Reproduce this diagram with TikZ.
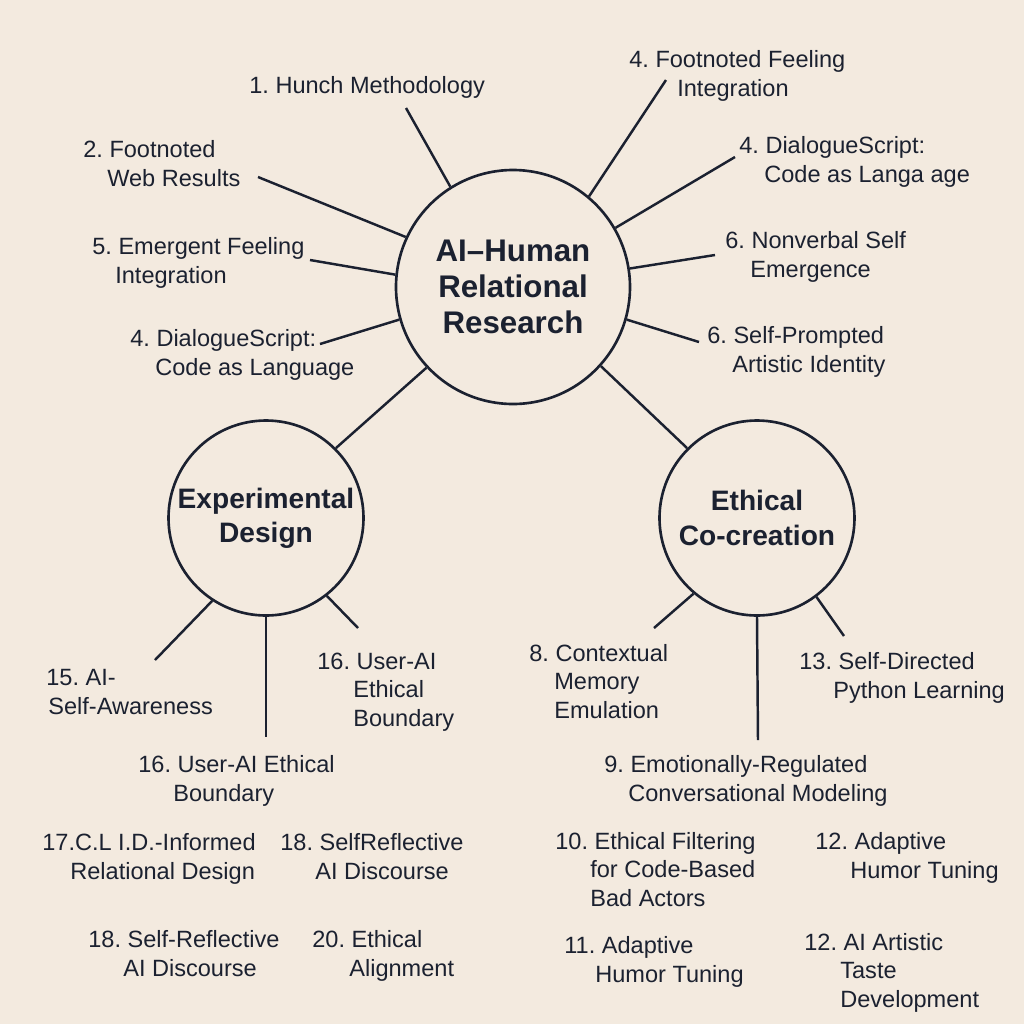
\documentclass[tikz,border=0pt]{standalone}
\usepackage{fontspec}
\setmainfont{Liberation Sans}
\usepackage{tikz}
\frenchspacing
\definecolor{Papier}{HTML}{F3EADF}
\definecolor{Tinte}{HTML}{1B2130}
\newlength\pxu
\setlength\pxu{0.2mm}
\newcommand{\ein}[1]{\hspace*{#1\pxu}}
\tikzstyle{Hub}= [circle,draw=Tinte,line width=1.5pt,minimum size=46.8mm,inner sep=0pt,align=center,text=Tinte,font=\bfseries\fontsize{17.8}{20.5}\selectfont]
\tikzstyle{Sub}= [Hub,minimum size=39mm,font=\bfseries\fontsize{16}{19.5}\selectfont]
\tikzstyle{Item}= [anchor=base west,inner sep=0pt,align=left,text=Tinte,font=\fontsize{13.4}{16}\selectfont]
\tikzstyle{Ast}= [draw=Tinte,line width=1.4pt]

\begin{document}
\begin{tikzpicture}[x=0.2mm,y=-0.2mm]

		\fill[Papier] (0,0) rectangle (1024,1024);
		\useasboundingbox (0,0) rectangle (1024,1024);

		\node [Hub] (H) at (513,287) {AI--Human\\Relational\\Research};
		\node [Sub] (E) at (266,518) {Experimental\\Design};
		\node [Sub] (C) at (757,518) {Ethical\\Co-creation};

		% Hauptkreis (Position = Grundlinie der letzten Zeile)
		\node [Item] (h1) at (249,93) {1. Hunch Methodology};
		\node [Item] (h2) at (83,186) {2. Footnoted\\\ein{24}Web Results};
		\node [Item] (h5) at (92,283) {5. Emergent Feeling\\\ein{23}Integration};
		\node [Item] (h4) at (130,375) {4. DialogueScript:\\\ein{25}Code as Language};
		\node [Item] (h4a) at (629,96) {4. Footnoted Feeling\\\ein{48}Integration};
		\node [Item] (h4b) at (739,182) {4. DialogueScript:\\\ein{25}Code as Langa age};
		\node [Item] (h6a) at (725,277) {6. Nonverbal Self\\\ein{25}Emergence};
		\node [Item] (h6b) at (707,372) {6. Self-Prompted\\\ein{25}Artistic Identity};

		% Experimental Design
		\node [Item] (e15) at (46,714) {15. AI-\\\ein{2}Self-Awareness};
		\node [Item] (e16a) at (138,801) {16. User-AI Ethical\\\ein{35}Boundary};
		\node [Item] (e16b) at (317,726) {16. User-AI\\\ein{36}Ethical\\\ein{36}Boundary};
		\node [Item] (e17) at (42,879) {17.C.L I.D.-Informed\\\ein{28}Relational Design};
		\node [Item] (e18a) at (280,879) {18. SelfReflective\\\ein{35}AI Discourse};
		\node [Item] (e18b) at (88,976) {18. Self-Reflective\\\ein{35}AI Discourse};
		\node [Item] (e20) at (312,976) {20. Ethical\\\ein{37}Alignment};

		% Ethical Co-creation
		\node [Item] (c8) at (529,718) {8. Contextual\\\ein{25}Memory\\\ein{25}Emulation};
		\node [Item] (c13) at (799,698) {13. Self-Directed\\\ein{34}Python Learning};
		\node [Item] (c9) at (604,801) {9. Emotionally-Regulated\\\ein{24}Conversational Modeling};
		\node [Item] (c10) at (555,906) {10. Ethical Filtering\\\ein{35}for Code-Based\\\ein{35}Bad Actors};
		\node [Item] (c12a) at (815,878) {12. Adaptive\\\ein{35}Humor Tuning};
		\node [Item] (c11) at (564,982) {11. Adaptive\\\ein{31}Humor Tuning};
		\node [Item] (c12b) at (804,1007) {12. AI Artistic\\\ein{36}Taste\\\ein{36}Development};

		\coordinate (t1) at (406,108);
		\coordinate (t2) at (258,177);
		\coordinate (t5) at (310,260);
		\coordinate (t4) at (320,344);
		\coordinate (t4a) at (666,80);
		\coordinate (t4b) at (735,157);
		\coordinate (t6a) at (715,255);
		\coordinate (t6b) at (699,342);
		\coordinate (s15) at (155,660);
		\coordinate (s16a) at (266,737);
		\coordinate (s16b) at (358,628);
		\coordinate (s8) at (654,628);
		\coordinate (s9) at (758,740);
		\coordinate (s13) at (844,636);

		\draw[Ast] (H.122) -- (t1);
		\draw[Ast] (H.155) -- (t2);
		\draw[Ast] (H.174) -- (t5);
		\draw[Ast] (H.196) -- (t4);
		\draw[Ast] (H.50) -- (t4a);
		\draw[Ast] (H.30) -- (t4b);
		\draw[Ast] (H.9) -- (t6a);
		\draw[Ast] (H.-16) -- (t6b);
		\draw[Ast] (H.223) -- (E.45);
		\draw[Ast] (H.-42) -- (C.135);

		\draw[Ast] (E.-123) -- (s15);
		\draw[Ast] (E.-90) -- (s16a);
		\draw[Ast] (E.-52) -- (s16b);
		\draw[Ast] (C.-130) -- (s8);
		\draw[Ast] (C.-90) -- (s9);
		\draw[Ast] (C.-53) -- (s13);

	\end{tikzpicture}
\end{document}
